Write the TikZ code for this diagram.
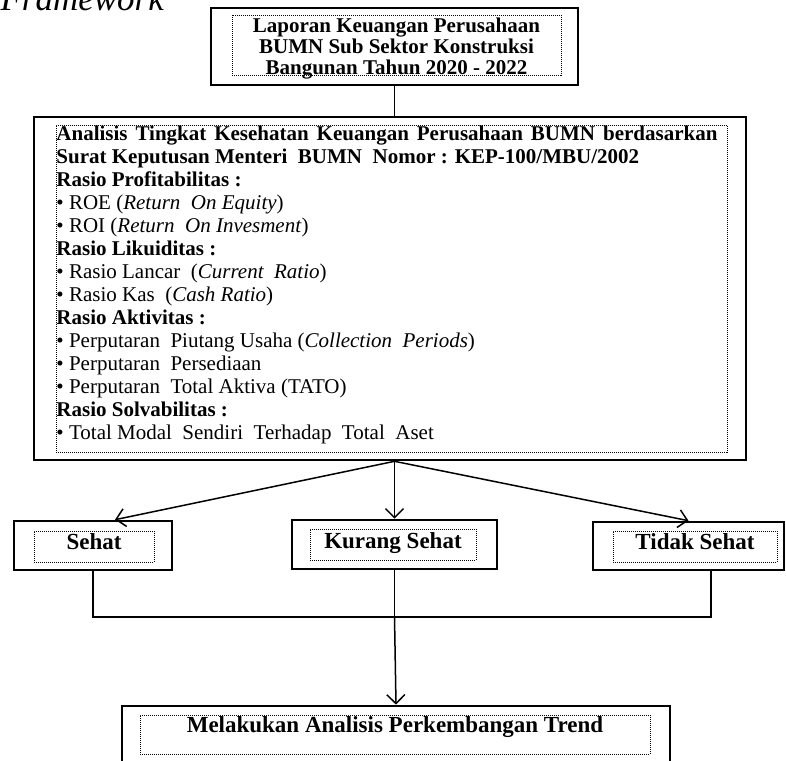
\documentclass[tikz,border=0pt]{standalone}
\usepackage{fontspec}
\setmainfont{Liberation Serif}
\usetikzlibrary{arrows.meta,calc}

\tikzset{
  outer/.style={draw,line width=2.6pt,inner sep=0pt},
  inner/.style={draw,line width=0.9pt,dash pattern=on 1pt off 1pt,inner sep=0pt},
  link/.style={line width=1.5pt},
  arr/.style={link,-{Straight Barb[length=9pt,width=18pt]}},
  hasil/.style={inner,minimum height=31pt,text height=16pt,text depth=10pt,
    font=\fontsize{23}{26}\selectfont\bfseries},
}

\begin{document}
\begin{tikzpicture}[x=1pt,y=-1pt]
        \useasboundingbox (0,0) rectangle (786,760);
        \node[anchor=base west,font=\fontsize{35}{40}\selectfont\itshape] (judul) at (-3,11) {Framework};

        \node[outer,minimum width=367pt,minimum height=77pt] (lap) at (394.5,46.5) {};
        \node[inner,anchor=north] (lapisi) at (396.5,15) {\parbox[t][60pt][t]{329pt}{\centering
          \fontsize{21}{21}\selectfont\bfseries
          \rule{0pt}{17pt}Laporan Keuangan Perusahaan\\ BUMN Sub Sektor Konstruksi\\ Bangunan Tahun 2020 - 2022}};

        \node[outer,minimum width=712pt,minimum height=343pt] (ana) at (390,288.5) {};
        \node[inner,anchor=north west] (anaisi) at (56,125) {\parbox[t][327pt][t]{671pt}{%
          \fontsize{21}{23}\selectfont
          \makebox[661pt][s]{\bfseries Analisis Tingkat Kesehatan Keuangan Perusahaan BUMN berdasarkan}\\
          \textbf{Surat Keputusan Menteri\ \ BUMN\ \ Nomor : KEP-100/MBU/2002}\\
          \textbf{Rasio Profitabilitas :}\\
          \textbullet{} ROE (\textit{Return\ \ On Equity})\\
          \textbullet{} ROI (\textit{Return\ \ On Invesment})\\
          \textbf{Rasio Likuiditas :}\\
          \textbullet{} Rasio Lancar\ \ (\textit{Current\ \ Ratio})\\
          \textbullet{} Rasio Kas\ \ (\textit{Cash Ratio})\\
          \textbf{Rasio Aktivitas :}\\
          \textbullet{} Perputaran\ \ Piutang Usaha (\textit{Collection\ \ Periods})\\
          \textbullet{} Perputaran\ \ Persediaan\\
          \textbullet{} Perputaran\ \ Total Aktiva (TATO)\\
          \textbf{Rasio Solvabilitas :}\\
          \textbullet{} Total Modal\ \ Sendiri\ \ Terhadap\ \ Total\ \ Aset}};

        \node[outer,minimum width=158pt,minimum height=49pt] (sehat) at (93,545.5) {};
        \node[hasil,minimum width=120pt] (sehatisi) at (94,546.5) {Sehat};
        \node[outer,minimum width=205pt,minimum height=49pt] (kurang) at (394.5,544.5) {};
        \node[hasil,minimum width=166pt,text depth=8pt] (kurangisi) at (393,544.5) {Kurang Sehat};
        \node[outer,minimum width=191pt,minimum height=48pt] (tidak) at (688.5,546) {};
        \node[hasil,minimum width=164pt] (tidakisi) at (695,546.5) {Tidak Sehat};

        \node[outer,minimum width=548pt,minimum height=58pt] (trend) at (396,735) {};
        \node[hasil,minimum width=510pt,minimum height=39pt,text depth=21pt] (trendisi) at (395,734.5)
          {Melakukan Analisis Perkembangan Trend};

        \draw[link] (lap.south) -- (lap.south |- ana.north);
        \coordinate (pecah) at (ana.south -| kurang.north);
        \draw[arr] (pecah) -- ($(sehat.north)+(22,0)$);
        \draw[arr] (pecah) -- (kurang.north);
        \draw[arr] (pecah) -- (tidak.north);

        \coordinate (gabung) at (394.5,617);
        \draw[link] (sehat.south) |- (gabung) -| ($(tidak.south)+(22.5,0)$);
        \draw[link] (kurang.south) -- (gabung);
        \draw[arr] (gabung) -- (trend.north);
      \end{tikzpicture}
\end{document}
